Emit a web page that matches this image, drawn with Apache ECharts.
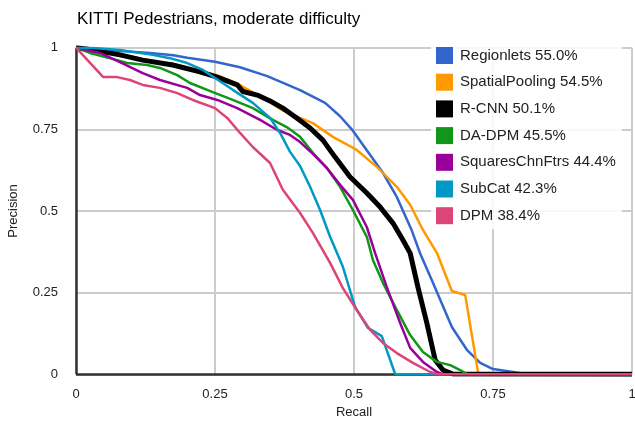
<!DOCTYPE html>
<html>
<head>
<meta charset="utf-8">
<script src="https://cdn.jsdelivr.net/npm/echarts@6/dist/echarts.min.js"></script>
<style>
  html, body { margin: 0; padding: 0; background: #fff; }
  #chart { width: 635px; height: 421px; }
</style>
</head>
<body>
<div id="chart"></div>
<script>
// [recall, precision] pairs
const regionlets = [[0,1],[0.025,0.998],[0.08,0.99],[0.133,0.984],[0.175,0.977],[0.2,0.969],[0.25,0.957],[0.295,0.94],[0.344,0.913],[0.403,0.87],[0.448,0.831],[0.475,0.79],[0.498,0.746],[0.523,0.686],[0.552,0.617],[0.577,0.543],[0.604,0.44],[0.619,0.37],[0.642,0.28],[0.676,0.145],[0.703,0.075],[0.727,0.035],[0.75,0.016],[0.786,0.007],[0.81,0],[1,0]]
const spatialPooling = [[0,1],[0.03,0.995],[0.08,0.98],[0.12,0.965],[0.175,0.95],[0.223,0.93],[0.254,0.915],[0.29,0.89],[0.33,0.852],[0.372,0.808],[0.403,0.785],[0.426,0.769],[0.462,0.727],[0.505,0.687],[0.541,0.635],[0.577,0.574],[0.601,0.519],[0.624,0.442],[0.649,0.372],[0.676,0.255],[0.7,0.243],[0.723,0.007],[0.725,0],[1,0]]
const rcnn = [[0,1],[0.031,0.993],[0.079,0.978],[0.12,0.962],[0.174,0.947],[0.223,0.926],[0.254,0.91],[0.29,0.886],[0.3,0.866],[0.326,0.855],[0.349,0.837],[0.372,0.815],[0.397,0.785],[0.421,0.754],[0.444,0.717],[0.466,0.665],[0.493,0.604],[0.523,0.555],[0.547,0.512],[0.57,0.463],[0.588,0.411],[0.601,0.371],[0.615,0.267],[0.631,0.157],[0.646,0.044],[0.66,0.013],[0.678,0.001],[0.68,0],[1,0]]
const daDpm = [[0,1],[0.025,0.984],[0.074,0.962],[0.092,0.953],[0.128,0.947],[0.151,0.938],[0.182,0.916],[0.205,0.892],[0.246,0.864],[0.282,0.84],[0.318,0.815],[0.354,0.779],[0.379,0.757],[0.403,0.727],[0.426,0.678],[0.451,0.632],[0.475,0.574],[0.498,0.503],[0.523,0.421],[0.534,0.35],[0.552,0.28],[0.577,0.197],[0.601,0.12],[0.624,0.068],[0.649,0.038],[0.673,0.028],[0.691,0.013],[0.703,0.001],[0.705,0],[1,0]]
const squaresChnFtrs = [[0,1],[0.043,0.984],[0.079,0.956],[0.12,0.922],[0.151,0.901],[0.2,0.877],[0.223,0.855],[0.254,0.84],[0.29,0.815],[0.331,0.779],[0.362,0.748],[0.385,0.733],[0.403,0.711],[0.426,0.675],[0.451,0.632],[0.475,0.58],[0.498,0.534],[0.523,0.451],[0.538,0.371],[0.559,0.267],[0.583,0.157],[0.601,0.081],[0.624,0.038],[0.649,0.007],[0.66,0],[1,0]]
const subCat = [[0,1],[0.031,0.999],[0.079,0.993],[0.138,0.978],[0.169,0.968],[0.2,0.953],[0.228,0.932],[0.25,0.907],[0.282,0.871],[0.318,0.831],[0.349,0.785],[0.367,0.739],[0.385,0.681],[0.403,0.638],[0.421,0.574],[0.439,0.503],[0.457,0.421],[0.48,0.329],[0.502,0.206],[0.525,0.142],[0.55,0.117],[0.574,0.001],[0.575,0],[1,0]]
const dpm = [[0,1],[0.049,0.91],[0.074,0.91],[0.097,0.901],[0.12,0.886],[0.151,0.877],[0.182,0.861],[0.21,0.84],[0.25,0.815],[0.272,0.785],[0.295,0.739],[0.318,0.696],[0.349,0.647],[0.372,0.565],[0.403,0.494],[0.426,0.433],[0.457,0.341],[0.48,0.264],[0.505,0.197],[0.529,0.136],[0.552,0.096],[0.577,0.065],[0.606,0.035],[0.637,0.007],[0.65,0],[1,0]]

const seriesNames = ['Regionlets 55.0%', 'SpatialPooling 54.5%', 'R-CNN 50.1%', 'DA-DPM 45.5%', 'SquaresChnFtrs 44.4%', 'SubCat 42.3%', 'DPM 38.4%']
const seriesData = [regionlets, spatialPooling, rcnn, daDpm, squaresChnFtrs, subCat, dpm]
const colors = ['#3366cc', '#ff9900', '#000000', '#109618', '#990099', '#0099c6', '#dd4477']
const tickValues = [0, 0.25, 0.5, 0.75, 1]

const chart = echarts.init(document.getElementById('chart'))

const font = 'Arial, "Liberation Sans", sans-serif'

chart.setOption({
  animation: false,
  backgroundColor: '#fff',
  textStyle: { fontFamily: font },
  title: {
    text: 'KITTI Pedestrians, moderate difficulty',
    left: 72,
    top: 6,
    textStyle: { fontSize: 17, fontWeight: 'normal', color: '#000', fontFamily: font }
  },
  legend: {
    orient: 'vertical',
    left: 431,
    top: 42,
    padding: [5, 6, 5, 5],
    itemWidth: 17,
    itemHeight: 17,
    itemGap: 9.7,
    icon: 'rect',
    backgroundColor: 'rgba(255,255,255,0.85)',
    textStyle: { fontSize: 15, color: '#222', fontFamily: font, padding: [0, 0, 0, 2] },
    data: seriesNames
  },
  grid: {
    left: 76,
    right: 3,
    top: 47.7,
    bottom: 46.7,
    containLabel: false,
    outerBoundsMode: 'none'
  },
  xAxis: {
    type: 'value',
    min: 0,
    max: 1,
    interval: 0.25,
    name: 'Recall',
    nameLocation: 'middle',
    nameGap: 30,
    nameTextStyle: { fontSize: 13, color: '#222' },
    axisLine: { show: false },
    axisTick: { show: false },
    axisLabel: {
      fontSize: 13,
      color: '#222',
      margin: 14,
      formatter: v => (tickValues.includes(v) ? String(v) : '')
    },
    splitLine: { show: true, lineStyle: { color: '#cccccc', width: 2 } }
  },
  yAxis: {
    type: 'value',
    min: 0,
    max: 1,
    interval: 0.25,
    name: 'Precision',
    nameLocation: 'middle',
    nameGap: 56,
    nameTextStyle: { fontSize: 13, color: '#222' },
    axisLine: { show: false },
    axisTick: { show: false },
    axisLabel: {
      fontSize: 13,
      color: '#222',
      margin: 18,
      formatter: v => (tickValues.includes(v) ? String(v) : '')
    },
    splitLine: { show: true, lineStyle: { color: '#cccccc', width: 2 } }
  },
  series: seriesNames.map((name, i) => ({
    name: name,
    type: 'line',
    data: seriesData[i],
    showSymbol: false,
    symbol: 'none',
    smooth: false,
    color: colors[i],
    lineStyle: { color: colors[i], width: i === 2 ? 5 : 2.5 },
    z: 2 + i
  })).concat([
    // dark axis lines drawn as markLines on an empty series
    {
      type: 'line',
      data: [],
      silent: true,
      z: 20,
      markLine: {
        symbol: 'none',
        silent: true,
        label: { show: false },
        lineStyle: { color: '#333', width: 2.5, type: 'solid' },
        data: [{ xAxis: 0 }, { yAxis: 0 }]
      }
    }
  ])
})
</script>
</body>
</html>
